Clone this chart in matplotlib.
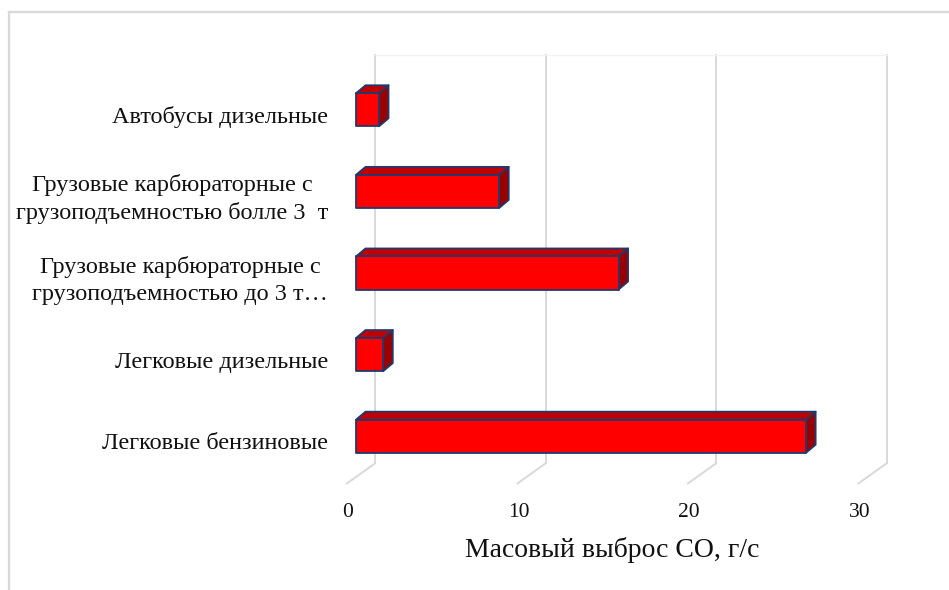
import matplotlib
matplotlib.use("Agg")
import matplotlib.pyplot as plt
from matplotlib.patches import Polygon, Rectangle
from matplotlib.lines import Line2D
from matplotlib.transforms import IdentityTransform, offset_copy

# Data (bottom to top)
categories = [
    "Легковые бензиновые",
    "Легковые дизельные",
    "Грузовые карбюраторные с\nгрузоподъемностью до 3 т…",
    "Грузовые карбюраторные с\nгрузоподъемностью болле 3  т",
    "Автобусы дизельные",
]
emissions = [26.4, 1.6, 15.4, 8.4, 1.35]
x_ticks = [0, 10, 20, 30]
x_label = "Масовый выброс CO, г/с"

W, H = 949, 590
plt.rcParams["font.family"] = ["Liberation Serif", "DejaVu Serif"]

fig = plt.figure(figsize=(W / 100, H / 100), dpi=100)
ax = fig.add_axes([356 / W, (H - 477) / H, 511.5 / W, 408 / H])
ax.set_xlim(0, 30)
ax.set_ylim(-0.5, 4.5)
ax.axis("off")

# pseudo-3D offsets in pixels (display coords, y up)
BACK = (19.0, 13.6)    # bar front plane -> back wall
FRONT = (-9.0, -6.4)   # bar front plane -> floor front edge
DEPTH = (9.5, 8.0)     # bar thickness in depth

FRONT_C = "#FF0000"
TOP_C = "#C00000"
SIDE_C = "#9A0000"
EDGE_C = "#1F3A6E"
GRID_C = "#D9D9D9"
TEXT_C = "#111111"
BAR_H = 0.405


def disp(x, y, off=(0, 0)):
    px, py = ax.transData.transform((x, y))
    return (px + off[0], py + off[1])


ident = IdentityTransform()

# outer chart frame
fig.add_artist(Line2D([9 / W, 9 / W], [0, 1 - 12 / H], transform=fig.transFigure,
                      color="#D9D9D9", lw=1.6))
fig.add_artist(Line2D([9 / W, 1], [1 - 12 / H, 1 - 12 / H], transform=fig.transFigure,
                      color="#D9D9D9", lw=1.6))

# back wall gridlines and floor lines
ylo, yhi = ax.get_ylim()
for v in x_ticks:
    b0 = disp(v, ylo, BACK)
    b1 = disp(v, yhi, BACK)
    f0 = disp(v, ylo, FRONT)
    ax.add_line(Line2D([b0[0], b1[0]], [b0[1], b1[1]], transform=ident,
                       color=GRID_C, lw=1.4, clip_on=False, zorder=1))
    ax.add_line(Line2D([b0[0], f0[0]], [b0[1], f0[1]], transform=ident,
                       color=GRID_C, lw=1.4, clip_on=False, zorder=1))
t0 = disp(x_ticks[0], yhi, BACK)
t1 = disp(x_ticks[-1], yhi, BACK)
ax.add_line(Line2D([t0[0], t1[0]], [t0[1], t1[1]], transform=ident,
                   color="#F2F2F2", lw=1.0, clip_on=False, zorder=1))

# 3D bars
for i, v in enumerate(emissions):
    y0, y1 = i - BAR_H / 2, i + BAR_H / 2
    fl_t, fr_t = disp(0, y1), disp(v, y1)
    fr_b = disp(v, y0)
    top = [fl_t, fr_t, (fr_t[0] + DEPTH[0], fr_t[1] + DEPTH[1]),
           (fl_t[0] + DEPTH[0], fl_t[1] + DEPTH[1])]
    side = [fr_b, fr_t, (fr_t[0] + DEPTH[0], fr_t[1] + DEPTH[1]),
            (fr_b[0] + DEPTH[0], fr_b[1] + DEPTH[1])]
    ax.add_patch(Polygon(top, closed=True, transform=ident, facecolor=TOP_C,
                         edgecolor=EDGE_C, lw=1.3, joinstyle="round",
                         clip_on=False, zorder=3))
    ax.add_patch(Polygon(side, closed=True, transform=ident, facecolor=SIDE_C,
                         edgecolor=EDGE_C, lw=1.3, joinstyle="round",
                         clip_on=False, zorder=3))
    ax.add_patch(Rectangle((0, y0), v, BAR_H, facecolor=FRONT_C, edgecolor=EDGE_C,
                           lw=1.3, joinstyle="round", clip_on=False, zorder=4))

# category labels
for i, name in enumerate(categories):
    tr = offset_copy(ax.transData, fig=fig, x=-28, y=-7.5, units="dots")
    ax.text(0, i, name, transform=tr, ha="right", va="center",
            multialignment="center", linespacing=1.33,
            fontsize=17.5, color=TEXT_C)

# value tick labels
for v in x_ticks:
    tr = offset_copy(ax.transData, fig=fig, x=FRONT[0] + 1, y=FRONT[1] - 29, units="dots")
    ax.text(v, ylo, f"{v}", transform=tr, ha="center", va="center",
            fontsize=15.5, color=TEXT_C)

fig.text(612 / W, 1 - 550 / H, x_label, ha="center", va="center",
         fontsize=20, color=TEXT_C)

fig.savefig("out.png", dpi=100, facecolor="white")
